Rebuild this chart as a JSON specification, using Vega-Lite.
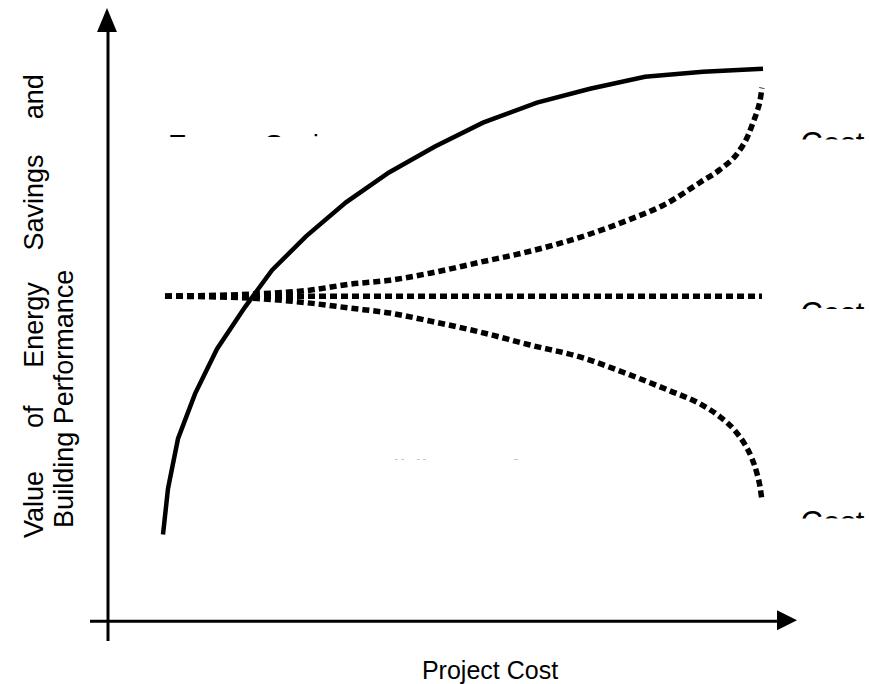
{
  "$schema": "https://vega.github.io/schema/vega-lite/v6.json",
  "width": 869,
  "height": 684,
  "autosize": {"type": "fit", "contains": "padding"},
  "padding": 0,
  "background": "white",
  "config": {"view": {"stroke": null}, "font": "Liberation Sans"},
  "datasets": {
    "clipped": [
      {"x": 0.60, "y": 4.69, "label": "Energy Savings", "fs": 28},
      {"x": 6.925, "y": 4.69, "label": "Cost", "fs": 31},
      {"x": 6.925, "y": 2.98, "label": "Cost", "fs": 31},
      {"x": 6.925, "y": 0.88, "label": "Cost", "fs": 31},
      {"x": 2.51, "y": 1.43, "label": "Building Performance", "fs": 28}
    ],
    "covers": [
      {"x": 0.52, "x2": 2.82, "y": 4.855, "y2": 4.55},
      {"x": 6.82, "x2": 7.61, "y": 4.83, "y2": 4.50},
      {"x": 6.82, "x2": 7.61, "y": 3.13, "y2": 2.80},
      {"x": 6.82, "x2": 7.61, "y": 1.03, "y2": 0.70},
      {"x": 2.42, "x2": 5.32, "y": 1.625, "y2": 1.33}
    ],
    "axes": [
      {"x": 0, "y": -0.20, "x2": 0, "y2": 5.93},
      {"x": -0.18, "y": 0, "x2": 6.72, "y2": 0}
    ],
    "value": [
      {"i": 1, "x": 0.55, "y": 0.87},
      {"i": 2, "x": 0.60, "y": 1.33},
      {"i": 3, "x": 0.70, "y": 1.83},
      {"i": 4, "x": 0.87, "y": 2.28},
      {"i": 5, "x": 1.09, "y": 2.73},
      {"i": 6, "x": 1.37, "y": 3.15},
      {"i": 7, "x": 1.64, "y": 3.52},
      {"i": 8, "x": 1.98, "y": 3.86},
      {"i": 9, "x": 2.38, "y": 4.20},
      {"i": 10, "x": 2.81, "y": 4.50},
      {"i": 11, "x": 3.27, "y": 4.76},
      {"i": 12, "x": 3.75, "y": 5.00},
      {"i": 13, "x": 4.29, "y": 5.20},
      {"i": 14, "x": 4.82, "y": 5.34},
      {"i": 15, "x": 5.37, "y": 5.46},
      {"i": 16, "x": 5.95, "y": 5.51},
      {"i": 17, "x": 6.55, "y": 5.54}
    ],
    "costs": [
      {"s": "flat", "i": 1, "x": 0.57, "y": 3.26},
      {"s": "flat", "i": 2, "x": 6.54, "y": 3.26},
      {"s": "up", "i": 1, "x": 0.57, "y": 3.26},
      {"s": "up", "i": 2, "x": 1.42, "y": 3.28},
      {"s": "up", "i": 3, "x": 2.02, "y": 3.32},
      {"s": "up", "i": 4, "x": 2.42, "y": 3.38},
      {"s": "up", "i": 5, "x": 2.82, "y": 3.42},
      {"s": "up", "i": 6, "x": 3.22, "y": 3.49},
      {"s": "up", "i": 7, "x": 3.72, "y": 3.60},
      {"s": "up", "i": 8, "x": 4.22, "y": 3.71},
      {"s": "up", "i": 9, "x": 4.72, "y": 3.85},
      {"s": "up", "i": 10, "x": 5.22, "y": 4.03},
      {"s": "up", "i": 11, "x": 5.57, "y": 4.18},
      {"s": "up", "i": 12, "x": 5.92, "y": 4.40},
      {"s": "up", "i": 13, "x": 6.12, "y": 4.53},
      {"s": "up", "i": 14, "x": 6.30, "y": 4.70},
      {"s": "up", "i": 15, "x": 6.40, "y": 4.87},
      {"s": "up", "i": 16, "x": 6.45, "y": 5.00},
      {"s": "up", "i": 17, "x": 6.49, "y": 5.11},
      {"s": "up", "i": 18, "x": 6.52, "y": 5.22},
      {"s": "up", "i": 19, "x": 6.54, "y": 5.35},
      {"s": "down", "i": 1, "x": 0.57, "y": 3.26},
      {"s": "down", "i": 2, "x": 1.42, "y": 3.24},
      {"s": "down", "i": 3, "x": 2.02, "y": 3.19},
      {"s": "down", "i": 4, "x": 2.42, "y": 3.14},
      {"s": "down", "i": 5, "x": 2.82, "y": 3.09},
      {"s": "down", "i": 6, "x": 3.22, "y": 3.01},
      {"s": "down", "i": 7, "x": 3.72, "y": 2.90},
      {"s": "down", "i": 8, "x": 4.22, "y": 2.77},
      {"s": "down", "i": 9, "x": 4.72, "y": 2.65},
      {"s": "down", "i": 10, "x": 5.22, "y": 2.47},
      {"s": "down", "i": 11, "x": 5.62, "y": 2.31},
      {"s": "down", "i": 12, "x": 5.92, "y": 2.18},
      {"s": "down", "i": 13, "x": 6.12, "y": 2.05},
      {"s": "down", "i": 14, "x": 6.27, "y": 1.91},
      {"s": "down", "i": 15, "x": 6.37, "y": 1.77},
      {"s": "down", "i": 16, "x": 6.44, "y": 1.63},
      {"s": "down", "i": 17, "x": 6.49, "y": 1.48},
      {"s": "down", "i": 18, "x": 6.52, "y": 1.35},
      {"s": "down", "i": 19, "x": 6.54, "y": 1.21}
    ],
    "ytitle": [
      {"x": -0.73, "y": 1.17, "label": "Value"},
      {"x": -0.73, "y": 2.05, "label": "of"},
      {"x": -0.73, "y": 2.97, "label": "Energy"},
      {"x": -0.73, "y": 4.20, "label": "Savings"},
      {"x": -0.73, "y": 5.26, "label": "and"},
      {"x": -0.43, "y": 2.23, "label": "Building Performance"}
    ],
    "xtitle": [
      {"x": 3.82, "y": -0.50, "label": "Project Cost"}
    ]
  },
  "encoding": {
    "x": {"field": "x", "type": "quantitative", "axis": null, "scale": {"domain": [-1.08, 7.61], "nice": false, "zero": false}},
    "y": {"field": "y", "type": "quantitative", "axis": null, "scale": {"domain": [-0.61, 6.23], "nice": false, "zero": false}}
  },
  "layer": [
    {
      "data": {"name": "clipped"},
      "mark": {"type": "text", "align": "left", "baseline": "alphabetic", "color": "black"},
      "encoding": {"text": {"field": "label"}, "size": {"field": "fs", "type": "quantitative", "scale": null}}
    },
    {
      "data": {"name": "covers"},
      "mark": {"type": "rect", "color": "white", "opacity": 1},
      "encoding": {"x2": {"field": "x2"}, "y2": {"field": "y2"}}
    },
    {
      "data": {"name": "axes"},
      "mark": {"type": "rule", "color": "black", "strokeWidth": 3},
      "encoding": {"x2": {"field": "x2"}, "y2": {"field": "y2"}}
    },
    {
      "data": {"values": [{"x": 6.79, "y": 0.01}]},
      "mark": {"type": "point", "shape": "M1,0L-1,-1L-1,1Z", "size": 400, "filled": true, "color": "black", "opacity": 1, "strokeWidth": 0},
      "encoding": {}
    },
    {
      "data": {"values": [{"x": -0.01, "y": 6.03}]},
      "mark": {"type": "point", "shape": "M0,-1L0.83,1L-0.83,1Z", "size": 576, "filled": true, "color": "black", "opacity": 1, "strokeWidth": 0},
      "encoding": {}
    },
    {
      "data": {"name": "costs"},
      "mark": {"type": "line", "color": "black", "strokeWidth": 5.5, "strokeDash": [7, 4], "strokeCap": "butt", "interpolate": "monotone"},
      "encoding": {"detail": {"field": "s"}, "order": {"field": "i", "type": "quantitative"}}
    },
    {
      "data": {"name": "value"},
      "mark": {"type": "line", "color": "black", "strokeWidth": 4.5, "interpolate": "linear"},
      "encoding": {"order": {"field": "i", "type": "quantitative"}}
    },
    {
      "data": {"name": "ytitle"},
      "mark": {"type": "text", "angle": 270, "align": "center", "baseline": "middle", "fontSize": 27, "color": "black"},
      "encoding": {"text": {"field": "label"}}
    },
    {
      "data": {"name": "xtitle"},
      "mark": {"type": "text", "align": "center", "baseline": "middle", "fontSize": 25, "color": "black"},
      "encoding": {"text": {"field": "label"}}
    }
  ]
}
